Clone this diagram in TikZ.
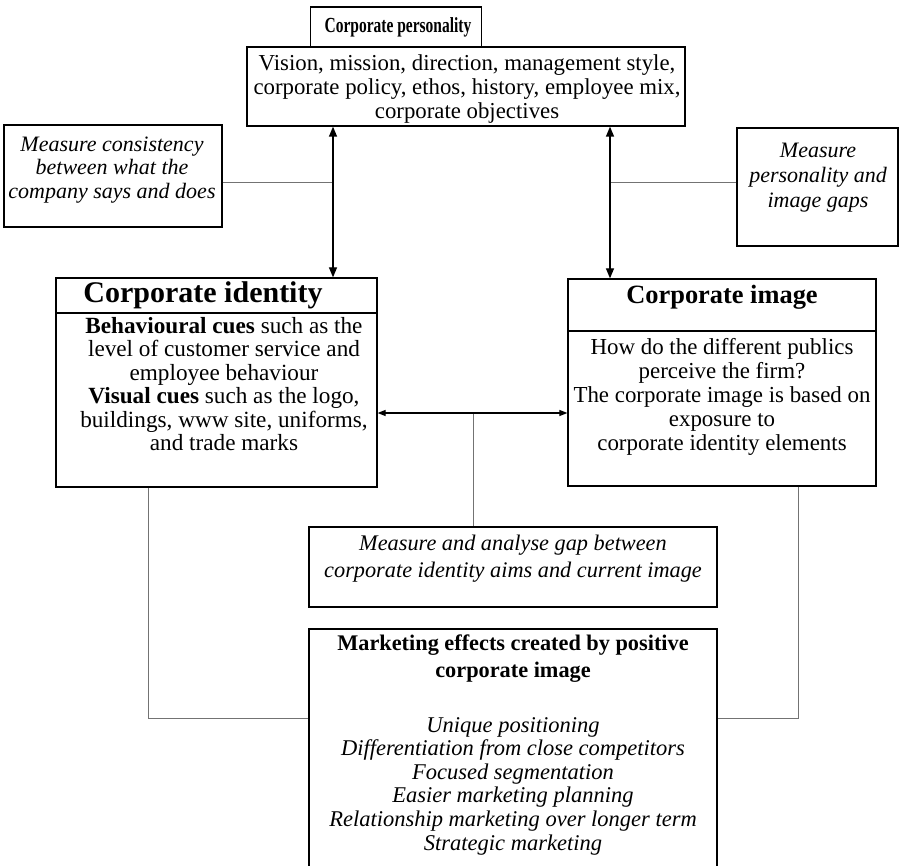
\documentclass[tikz,border=0pt]{standalone}
\usepackage{fontspec}
\usepackage{graphicx}
\setmainfont{Liberation Serif}
\usetikzlibrary{arrows.meta}
\newcommand\setfs[2]{\fontsize{#1}{#2}\selectfont}
\begin{document}
\begin{tikzpicture}[x=1pt,y=-1pt,
  boxsty/.style={draw=black,line width=1.3pt,inner sep=0pt,fill=none},
  txt/.style={inner sep=0pt,align=center,text=black},
  conn/.style={draw=black!55,line width=0.7pt},
  arr/.style={{Triangle[length=10pt,width=8pt]}-{Triangle[length=10pt,width=8pt]},line width=1.3pt,draw=black},
  arrs/.style={{Triangle[length=8pt,width=6pt]}-{Triangle[length=8pt,width=6pt]},line width=1.2pt,draw=black}]
\useasboundingbox (0,0) rectangle (901,866);
\fill[white] (0,0) rectangle (901,866);
% boxes
\node[boxsty,minimum width=171pt,minimum height=40pt] (pt) at (396,27) {};
\node[boxsty,minimum width=438pt,minimum height=79pt] (pmain) at (466,86.5) {};
\node[boxsty,minimum width=218pt,minimum height=102pt] (lnote) at (113,176) {};
\node[boxsty,minimum width=161pt,minimum height=118pt] (rnote) at (817.5,187) {};
\node[boxsty,minimum width=321pt,minimum height=35pt] (idt) at (216.5,295.5) {};
\node[boxsty,minimum width=321pt,minimum height=174pt] (idb) at (216.5,400) {};
\node[boxsty,minimum width=308pt,minimum height=52pt] (imt) at (722,305) {};
\node[boxsty,minimum width=308pt,minimum height=155pt] (imb) at (722,408.5) {};
\node[boxsty,minimum width=408pt,minimum height=80pt] (mnote) at (513,567) {};
\node[boxsty,minimum width=408pt,minimum height=251pt] (bot) at (513,754.5) {};
% texts
\node[txt,font=\setfs{21.5}{22}\bfseries] (ptx) at (398,27) {\scalebox{0.72}[1]{Corporate personality}};
\node[txt,font=\setfs{22.8}{23.6}] (pmx) at (467,89) {Vision, mission, direction, management style,\\corporate policy, ethos, history, employee mix,\\corporate objectives};
\node[txt,font=\setfs{22}{23.5}\itshape] (lnx) at (112,170) {Measure consistency\\between what the\\company says and does};
\node[txt,font=\setfs{22}{25}\itshape] (rnx) at (818,178) {Measure\\personality and\\image gaps};
\node[txt,font=\setfs{30}{31}\bfseries] (idtx) at (203,295.5) {Corporate identity};
\node[txt,font=\setfs{23.2}{23.4}] (idbx) at (224,384) {\textbf{Behavioural cues} such as the\\level of customer service and\\employee behaviour\\\textbf{Visual cues} such as the logo,\\buildings, www site, uniforms,\\and trade marks};
\node[txt,font=\setfs{26.4}{27}\bfseries] (imtx) at (722,297) {Corporate image};
\node[txt,font=\setfs{22.9}{23.9}] (imbx) at (722,397) {How do the different publics\\perceive the firm?\\The corporate image is based on\\exposure to\\corporate identity elements};
\node[txt,font=\setfs{22.3}{26.5}\itshape] (mnx) at (513,558.5) {Measure and analyse gap between\\corporate identity aims and current image};
\node[txt,font=\setfs{22.3}{27}\bfseries] (btx) at (513,658.5) {Marketing effects created by positive\\corporate image};
\node[txt,font=\setfs{22.5}{23.6}\itshape] (blx) at (513,786) {Unique positioning\\Differentiation from close competitors\\Focused segmentation\\Easier marketing planning\\Relationship marketing over longer term\\Strategic marketing};
% helper coordinates
\coordinate (xL) at (333,0);
\coordinate (xR) at (610,0);
\coordinate (hN) at (0,182);
\coordinate (hM) at (0,413);
\coordinate (xM) at (473,0);
\coordinate (xLL) at (148,0);
\coordinate (xRR) at (798,0);
\coordinate (hB) at (0,718);
% connectors
\draw[conn] (lnote.east |- hN) -- (xL |- hN);
\draw[conn] (xR |- hN) -- (rnote.west |- hN);
\draw[conn] (xM |- hM) -- (xM |- mnote.north);
\draw[conn] (xLL |- idb.south) |- (bot.west |- hB);
\draw[conn] (xRR |- imb.south) |- (bot.east |- hB);
\draw[arr] (xL |- pmain.south) -- (xL |- idt.north);
\draw[arr] (xR |- pmain.south) -- (xR |- imt.north);
\draw[arrs] (idb.east |- hM) -- (imb.west |- hM);
\end{tikzpicture}
\end{document}
